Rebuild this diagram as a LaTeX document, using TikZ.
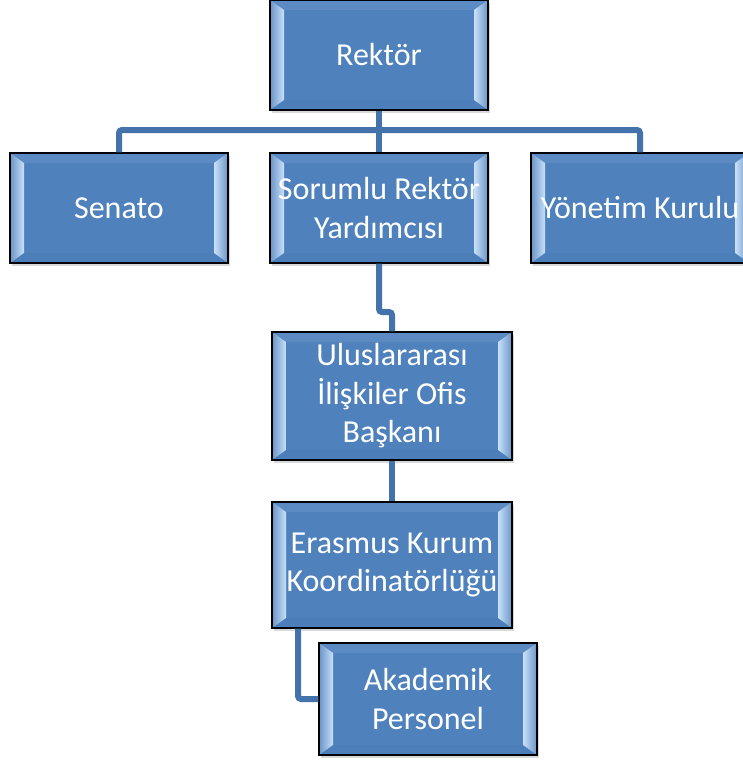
\documentclass[tikz,border=0pt]{standalone}
\usepackage{fontspec}
\setmainfont{Carlito}
\usetikzlibrary{calc,shadows}
\definecolor{boxblue}{HTML}{4F81BD}
\definecolor{bevlight}{HTML}{C9E0FA}
\definecolor{bevdark}{HTML}{3E6DA6}
\definecolor{connblue}{HTML}{4472AA}
\tikzset{
  orgbox/.style={draw=black, line width=1.3pt, fill=boxblue, text=white,
    align=center, inner sep=0pt, font=\fontsize{32}{38.5}\selectfont,
    drop shadow={opacity=0.3, shadow xshift=2pt, shadow yshift=-3pt},
    path picture={
      \coordinate (bNW) at (path picture bounding box.north west);
      \coordinate (bSW) at (path picture bounding box.south west);
      \coordinate (bNE) at (path picture bounding box.north east);
      \coordinate (bSE) at (path picture bounding box.south east);
      \shade[left color=boxblue!85!white, right color=bevlight]
        (bNW) -- ($(bNW)+(14,10)$) -- ($(bSW)+(14,-10)$) -- (bSW) -- cycle;
      \shade[right color=boxblue!85!white, left color=bevlight]
        (bNE) -- ($(bNE)+(-14,10)$) -- ($(bSE)+(-14,-10)$) -- (bSE) -- cycle;
      \fill[bevdark, opacity=0.15]
        (bSW) -- ($(bSW)+(14,-10)$) -- ($(bSE)+(-14,-10)$) -- (bSE) -- cycle;
      \fill[white, opacity=0.08]
        (bNW) -- ($(bNW)+(14,10)$) -- ($(bNE)+(-14,10)$) -- (bNE) -- cycle;
    }},
  conn/.style={draw=connblue, line width=6pt, rounded corners=3pt}
}
\begin{document}
\begin{tikzpicture}[x=1pt, y=-1pt]
\useasboundingbox (0,0) rectangle (742,760);
\coordinate (bar) at (379,130);
\coordinate (jog) at (392,312);
\node[orgbox, minimum width=218pt, minimum height=110pt] (rektor) at (379,55) {Rektör};
\node[orgbox, minimum width=218pt, minimum height=110pt] (senato) at (119,208) {Senato};
\node[orgbox, minimum width=218pt, minimum height=110pt] (sorumlu) at (379,208) {Sorumlu Rektör\\Yardımcısı};
\node[orgbox, minimum width=218pt, minimum height=110pt] (yonetim) at (640,208) {Yönetim Kurulu};
\node[orgbox, minimum width=240pt, minimum height=128pt] (ulus) at (392,396) {Uluslararası\\İlişkiler Ofis\\Başkanı};
\node[orgbox, minimum width=240pt, minimum height=126pt] (eras) at (392,565) {Erasmus Kurum\\Koordinatörlüğü};
\node[orgbox, minimum width=218pt, minimum height=112pt] (akad) at (428,699) {Akademik\\Personel};
\draw[conn] (senato.north) |- (bar) -| (yonetim.north);
\draw[conn] (rektor.south) -- (sorumlu.north);
\draw[conn] (sorumlu.south) |- (jog) -- (ulus.north);
\draw[conn] (ulus.south) -- (eras.north);
\draw[conn] ([xshift=-94pt]eras.south) |- (akad.west);
\end{tikzpicture}
\end{document}
